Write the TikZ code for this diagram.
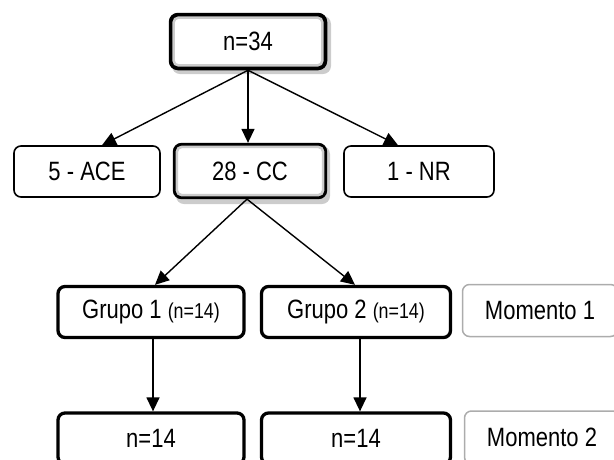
\documentclass[tikz,border=0pt]{standalone}
\usepackage{fontspec}
\setmainfont{Liberation Sans}[FakeStretch=0.83]
\usetikzlibrary{arrows.meta}
\tikzset{
  box/.style={rounded corners=7pt, draw, inner sep=0pt, align=center, fill=white,
    font=\fontsize{26.5}{30}\selectfont},
  thinbox/.style={box, line width=1.6pt, minimum width=146pt, minimum height=51pt},
  thickbox/.style={box, line width=3.3pt, minimum width=186pt, minimum height=51pt},
  graybox/.style={box, draw=gray!65, line width=1.5pt, minimum width=155pt, minimum height=52pt},
  fancybox/.style={box, line width=4pt},
  shadowfill/.style={fill=gray!40, rounded corners=8pt},
  band/.style={draw=gray!40, line width=2.5pt, rounded corners=5pt},
  arr/.style={-{Triangle[length=14pt,width=13pt]}, line width=1.4pt}
}
\begin{document}
\begin{tikzpicture}[x=1pt,y=-1pt]
\useasboundingbox (0,0) rectangle (614,459);
\clip (0,0) rectangle (614,459);
% shadows for fancy boxes
\fill[shadowfill] (172,16) rectangle (331,74);
\fill[shadowfill] (176,146) rectangle (330,204);
% nodes
\node[fancybox, line width=4.5pt, minimum width=154pt, minimum height=53pt] (top) at (248,41.5) {n=34};
\node[thinbox] (ace) at (87,171.5) {5 - ACE};
\node[fancybox, line width=3.3pt, minimum width=151pt, minimum height=53pt] (cc) at (250,171) {28 - CC};
\node[thinbox, minimum width=150pt] (nr) at (419,171.5) {1 - NR};
\node[thickbox] (g1) at (151,312) {Grupo 1 {\fontsize{21.5}{24}\selectfont(n=14)}};
\node[thickbox, minimum width=189pt] (g2) at (356,312) {Grupo 2 {\fontsize{21.5}{24}\selectfont(n=14)}};
\node[graybox] (mo1) at (540,310.5) {Momento 1};
\node[thickbox] (n1) at (151,438.5) {n=14};
\node[thickbox, minimum width=189pt] (n2) at (356,438.5) {n=14};
\node[graybox, minimum height=53pt] (mo2) at (542,437.5) {Momento 2};
% inner gray bands
\draw[band] ([shift={(4.8pt,-4.8pt)}]top.north west) rectangle ([shift={(-4.8pt,4.8pt)}]top.south east);
\draw[band] ([shift={(4pt,-4pt)}]cc.north west) rectangle ([shift={(-4pt,4pt)}]cc.south east);
% connectors
\draw[arr] (top.south) -- ([xshift=15pt]ace.north);
\draw[arr] (top.south) -- (cc.north -| top.south);
\draw[arr] (top.south) -- ([xshift=-21pt]nr.north);
\draw[arr] ([xshift=-3pt]cc.south) -- ([xshift=4pt]g1.north);
\draw[arr] ([xshift=-3pt]cc.south) -- ([xshift=-1pt]g2.north);
\draw[arr] ([xshift=2pt]g1.south) -- ([xshift=2pt]n1.north);
\draw[arr] ([xshift=4pt]g2.south) -- ([xshift=4pt]n2.north);
\end{tikzpicture}
\end{document}
